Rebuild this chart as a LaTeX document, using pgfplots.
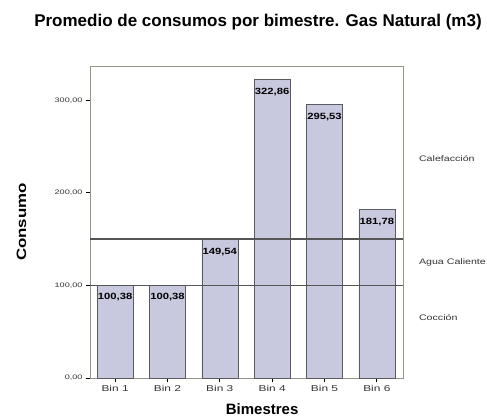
\documentclass[border=0pt]{standalone}
\usepackage{pgfplots}
\pgfplotsset{compat=1.18}
\usepackage{fontspec}
\setmainfont{Liberation Sans}
\newfontfamily\widefont[FakeStretch=1.4]{Liberation Sans}
\newfontfamily\sidefont[FakeStretch=1.33]{Liberation Sans}
\newfontfamily\widebold[FakeStretch=1.25]{Liberation Sans Bold}
\definecolor{barfill}{RGB}{200,200,222}
\definecolor{baredge}{RGB}{90,90,95}
\definecolor{framec}{RGB}{150,150,135}
\definecolor{linec}{RGB}{85,85,85}
\begin{document}
\begin{tikzpicture}[x=1pt,y=1pt]
\useasboundingbox (0,0) rectangle (487,419);
\node[font=\bfseries\fontsize{17}{19}\selectfont] at (258,397) {Promedio de consumos por bimestre. Gas Natural (m3)};
\begin{axis}[
  at={(90pt,41pt)}, anchor=south west,
  width=313pt, height=312pt, scale only axis,
  xmin=0.52, xmax=6.5, ymin=0, ymax=337,
  axis line style={draw=framec, line width=0.8pt},
  ytick={0,100,200,300},
  xtick={1,2,3,4,5,6},
  xticklabels={Bin 1,Bin 2,Bin 3,Bin 4,Bin 5,Bin 6},
  tick align=outside,
  major tick length=4pt,
  tick style={black, line width=0.8pt},
  xtick pos=bottom, ytick pos=left,
  /pgf/number format/assume math mode=true,
  /pgf/number format/.cd, fixed, fixed zerofill, precision=2, use comma, 1000 sep={},
  /pgfplots/.cd,
  yticklabel style={font=\widefont\fontsize{6.5}{7}\selectfont, text=black!80},
  xticklabel style={font=\widefont\fontsize{8.5}{9}\selectfont, text=black!80},
  xlabel={Bimestres}, ylabel={Consumo},
  xlabel style={font=\bfseries\fontsize{15}{16}\selectfont, at={(axis description cs:0.55,-0.101)}, anchor=center},
  ylabel style={font=\widebold\fontsize{13.5}{15}\selectfont, at={(axis description cs:-0.219,0.5)}, anchor=center},
  clip=false,
]
\addplot[ybar, bar width=36pt, fill=barfill, draw=baredge, line width=0.6pt,
  nodes near coords,
  nodes near coords style={anchor=north, yshift=-5pt, font=\widebold\fontsize{9}{10}\selectfont, /pgf/number format/assume math mode=true}]
  coordinates {(1,100.38) (2,100.38) (3,149.54) (4,322.86) (5,295.53) (6,181.78)};
\addplot[draw=linec, line width=1.5pt] coordinates {(0.52,150) (6.5,150)};
\addplot[draw=linec, line width=1.5pt] coordinates {(0.52,100) (6.5,100)};
\node[anchor=west, font=\sidefont\fontsize{8}{9}\selectfont, text=black!80] at (rel axis cs:1.04,0.703) {Calefacción};
\node[anchor=west, font=\sidefont\fontsize{8}{9}\selectfont, text=black!80] at (rel axis cs:1.04,0.37) {Agua Caliente};
\node[anchor=west, font=\sidefont\fontsize{8}{9}\selectfont, text=black!80] at (rel axis cs:1.04,0.193) {Cocción};
\end{axis}
\end{tikzpicture}
\end{document}
